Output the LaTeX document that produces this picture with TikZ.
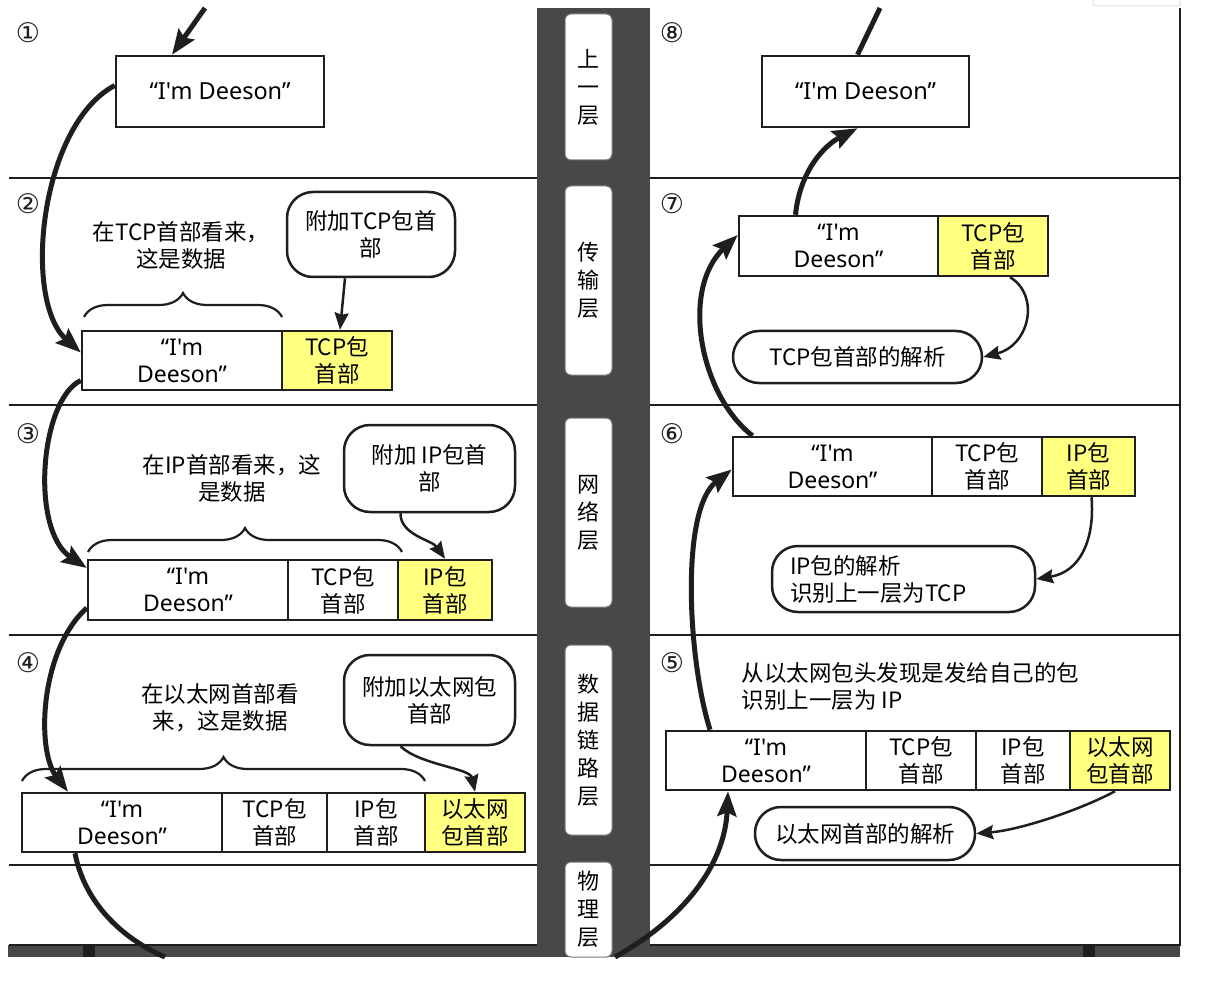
\documentclass[tikz,border=0pt]{standalone}
\usepackage{fontspec}
\setmainfont{Noto Sans CJK SC}
\newfontfamily\lat{Noto Sans}
\newfontfamily\sym{DejaVu Sans}
\usetikzlibrary{arrows.meta,decorations.pathreplacing}
\definecolor{hdr}{RGB}{255,255,128}
\definecolor{dark}{RGB}{72,72,72}
\definecolor{ink}{RGB}{30,30,30}
\tikzset{
  txt/.style={font=\fontsize{22.5}{27}\selectfont},
  cell/.style={draw=ink, line width=2.5pt, minimum height=59pt, inner sep=0pt, align=center, txt},
  ycell/.style={cell, fill=hdr},
  callout/.style={draw=ink, line width=2.5pt, rounded corners=26pt, align=center, inner sep=0pt, txt},
  note/.style={align=center, txt},
  num/.style={font=\sym\fontsize{27}{27}\selectfont, inner sep=0pt, text=ink},
  flow/.style={line width=5pt, draw=ink, -{Stealth[length=25pt,width=19pt,inset=4pt]}},
  flowplain/.style={line width=5pt, draw=ink},
  slim/.style={line width=2.5pt, draw=ink, -{Stealth[length=17pt,width=14pt,inset=2pt]}},
  layer/.style={fill=white, draw=ink!60, line width=1pt, rounded corners=6pt, minimum width=47pt, inner sep=0pt, align=center, font=\fontsize{22}{28}\selectfont},
  sep/.style={line width=2.5pt, draw=ink},
  brc/.style={line width=2.2pt, draw=ink, decorate, decoration={brace, amplitude=24pt}},
}
\newcommand{\dee}{{\lat\fontsize{23}{27}\selectfont “I'm}\\{\lat\fontsize{23}{27}\selectfont Deeson”}}
\newcommand{\deeone}{{\lat\fontsize{23.5}{27}\selectfont “I'm Deeson”}}
\begin{document}
\begin{tikzpicture}[x=1pt,y=-1pt]
\useasboundingbox (0,0) rectangle (1207,981);
\fill[white] (0,0) rectangle (1207,981);
% faint artefact top right
\draw[black!12, line width=1pt, rounded corners=2pt] (1093,-4) rectangle (1180,6);
% dark column and bottom band
\fill[dark] (537,8) rectangle (650,957);
\fill[dark] (8,945) rectangle (1180,957);
\fill[ink] (83,945) rectangle (95,957);
\fill[ink] (1083,945) rectangle (1095,957);
% separators
\foreach \yy in {178,405,635,865}{
  \draw[sep] (9,\yy) -- (537,\yy);
  \draw[sep] (650,\yy) -- (1180,\yy);
}
\draw[sep] (1180,8) -- (1180,946);
\draw[line width=1.2pt, draw=ink] (9,945) -- (537,945);
\draw[line width=1.2pt, draw=ink] (650,945) -- (1180,945);

% layer labels
\node[layer, minimum height=146pt] (L1) at (588.5,87) {上\\一\\层};
\node[layer, minimum height=189pt] (L2) at (588.5,280.5) {传\\输\\层};
\node[layer, minimum height=189pt] (L3) at (588.5,512.5) {网\\络\\层};
\node[layer, minimum height=190pt] (L4) at (588.5,740) {数\\据\\链\\路\\层};
\node[layer, minimum height=95pt] (L5) at (588.5,909.5) {物\\理\\层};

% step numbers
\node[num] (n1) at (28,33) {①};
\node[num] (n2) at (28,204) {②};
\node[num] (n3) at (28,434) {③};
\node[num] (n4) at (28,663) {④};
\node[num] (n8) at (672,33) {⑧};
\node[num] (n7) at (672,204) {⑦};
\node[num] (n6) at (672,434) {⑥};
\node[num] (n5) at (672,663) {⑤};

% ---- left side ----
\node[cell, minimum width=208pt, minimum height=71pt] (b1) at (220,91.5) {\deeone};

\node[note] (t2) at (181,245) {在TCP首部看来，\\这是数据};
\node[callout, minimum width=168pt, minimum height=85pt] (c2) at (371,234.5) {附加TCP包首\\部};
\node[cell, minimum width=200pt] (p2a) at (182,360.5) {\dee};
\node[ycell, minimum width=110pt] (p2b) at (337,360.5) {TCP包\\首部};
\draw[brc] (84,317) -- (282,317);

\node[note] (t3) at (232,478) {在IP首部看来，这\\是数据};
\node[callout, minimum width=171pt, minimum height=87pt] (c3) at (429.5,468.5) {附加 IP包首\\部};
\node[cell, minimum width=200pt, minimum height=60pt] (p3a) at (188,590) {\dee};
\node[cell, minimum width=110pt, minimum height=60pt] (p3b) at (343,590) {TCP包\\首部};
\node[ycell, minimum width=94pt, minimum height=60pt] (p3c) at (445,590) {IP包\\首部};
\draw[brc] (88,552) -- (402,552);

\node[note] (t4) at (220,708) {在以太网首部看\\来，这是数据};
\node[callout, minimum width=171pt, minimum height=90pt] (c4) at (429.5,700) {附加以太网包\\首部};
\node[cell, minimum width=200pt] (p4a) at (122,822.5) {\dee};
\node[cell, minimum width=105pt] (p4b) at (274.5,822.5) {TCP包\\首部};
\node[cell, minimum width=98pt] (p4c) at (376,822.5) {IP包\\首部};
\node[ycell, minimum width=100pt] (p4d) at (475,822.5) {以太网\\包首部};
\draw[brc] (22,781) -- (425,781);

% ---- right side ----
\node[cell, minimum width=207pt, minimum height=71pt] (b8) at (865.5,91.5) {\deeone};

\node[cell, minimum width=199pt, minimum height=60pt] (p7a) at (838.5,246) {\dee};
\node[ycell, minimum width=110pt, minimum height=60pt] (p7b) at (993,246) {TCP包\\首部};
\node[callout, minimum width=249pt, minimum height=52pt] (r7) at (857.5,357) {TCP包首部的解析};

\node[cell, minimum width=199pt] (p6a) at (832.5,466.5) {\dee};
\node[cell, minimum width=110pt] (p6b) at (987,466.5) {TCP包\\首部};
\node[ycell, minimum width=93pt] (p6c) at (1088.5,466.5) {IP包\\首部};
\node[callout, text width=227pt, align=left, inner xsep=18pt, minimum height=66pt] (r6) at (903.5,579) {IP包的解析\\识别上一层为TCP};

\node[note, anchor=west, align=left] (t5) at (738,686) {从以太网包头发现是发给自己的包\\识别上一层为 IP};
\node[cell, minimum width=200pt] (p5a) at (766,760.5) {\dee};
\node[cell, minimum width=110pt] (p5b) at (921,760.5) {TCP包\\首部};
\node[cell, minimum width=94pt] (p5c) at (1023,760.5) {IP包\\首部};
\node[ycell, minimum width=100pt] (p5d) at (1120,760.5) {以太网\\包首部};
\node[callout, minimum width=220pt, minimum height=53pt] (r5) at (865,833.5) {以太网首部的解析};

% free ends
\coordinate (topL) at (205,8);
\coordinate (topR) at (880,8);
\coordinate (botL) at (165,957);
\coordinate (botR) at (615,957);

% ---- main flow ----
\draw[flow] (topL) -- ([xshift=-48pt]b1.north);
\draw[flow] ([yshift=6pt]b1.west) .. controls (40,125) and (22,300) .. ([yshift=8pt]p2a.west);
\draw[flow] ([yshift=-20pt]p2a.west) .. controls (40,400) and (30,530) .. ([yshift=22pt]p3a.west);
\draw[flow] ([yshift=-18pt]p3a.west) .. controls (40,650) and (36,750) .. ([xshift=-54pt]p4a.north);
\draw[flowplain] ([xshift=-47pt]p4a.south) .. controls (85,905) and (125,940) .. (botL);
\draw[flow] (botR) .. controls (690,915) and (725,860) .. ([xshift=-38pt]p5a.south);
\draw[flow] ([xshift=-56pt]p5a.north) .. controls (688,660) and (680,510) .. ([yshift=-3pt]p6a.west);
\draw[flow] ([xshift=-80pt]p6a.north) .. controls (700,395) and (680,290) .. ([yshift=11pt]p7a.west);
\draw[flow] ([xshift=-43pt]p7a.north) .. controls (800,170) and (825,145) .. ([xshift=-8pt]b8.south);
\draw[flowplain] ([xshift=-8pt]b8.north) -- (topR);

% ---- callout arrows ----
\draw[slim] ([xshift=-26pt]c2.south) -- ([xshift=3pt]p2b.north);
\draw[slim] ([xshift=-29pt]c3.south) .. controls (400,535) and (432,540) .. (p3c.north);
\draw[slim] ([xshift=-29pt]c4.south) .. controls (420,765) and (470,768) .. (p4d.north);
\draw[slim] ([xshift=17pt]p7b.south) .. controls (1040,295) and (1030,345) .. (r7.east);
\draw[slim] ([xshift=3pt]p6c.south) .. controls (1095,540) and (1080,572) .. (r6.east);
\draw[slim] ([xshift=-5pt]p5d.south) .. controls (1080,810) and (1020,830) .. (r5.east);
\end{tikzpicture}
\end{document}
